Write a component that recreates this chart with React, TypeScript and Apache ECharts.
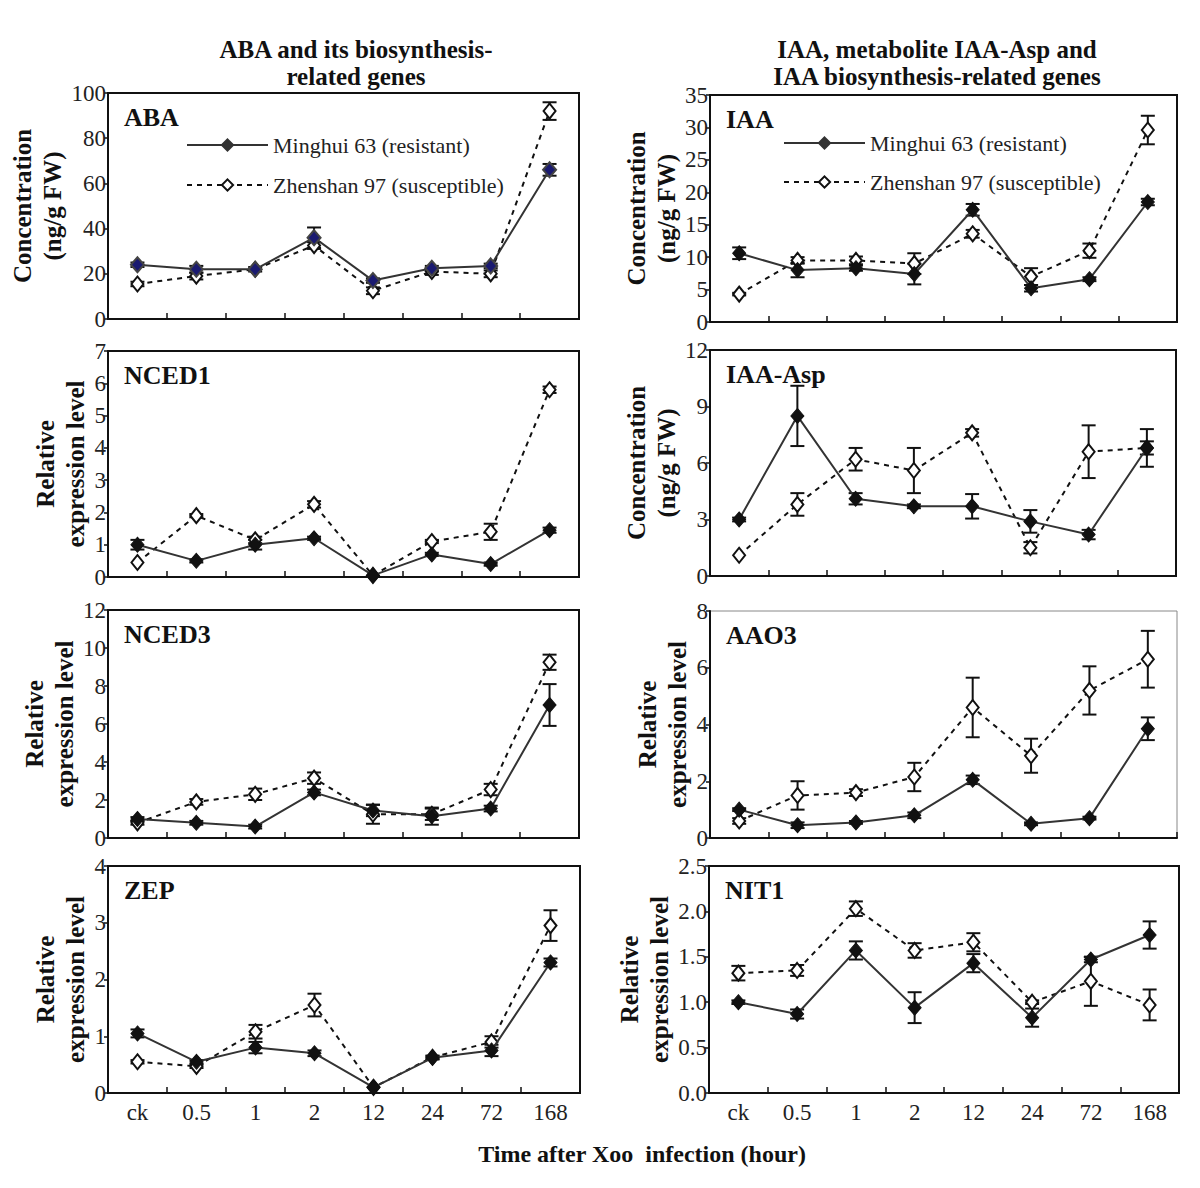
import React, { useEffect, useRef } from "react";
import * as echarts from "echarts";

const categories = ["ck", "0.5", "1", "2", "12", "24", "72", "168"];
const seriesNames = ["Minghui 63 (resistant)", "Zhenshan 97 (susceptible)"];

// ABA
const abaM = [24, 22, 22, 36, 17, 22.5, 23.5, 66];
const abaMErr = [1, 1.5, 0, 4.5, 1, 1, 1, 2.6];
const abaZ = [15.5, 19, 22, 32.5, 12.5, 21, 20, 92];
const abaZErr = [1, 1.5, 1, 1.5, 1.5, 1.5, 1.5, 3.9];
// IAA
const iaaM = [10.6, 8.0, 8.3, 7.4, 17.3, 5.2, 6.6, 18.5];
const iaaMErr = [0.9, 1.1, 0.4, 1.6, 0.9, 0.5, 0.3, 0.5];
const iaaZ = [4.3, 9.5, 9.5, 9.0, 13.6, 7.0, 11.0, 29.6];
const iaaZErr = [0.2, 0.5, 0.6, 1.6, 0.6, 1.3, 1.1, 2.2];
// NCED1
const nced1M = [1.0, 0.5, 1.0, 1.2, 0.05, 0.7, 0.4, 1.45];
const nced1MErr = [0.15, 0.05, 0.15, 0.05, 0, 0.05, 0.05, 0.08];
const nced1Z = [0.45, 1.9, 1.15, 2.25, 0.05, 1.1, 1.4, 5.8];
const nced1ZErr = [0, 0.05, 0.1, 0.1, 0, 0.05, 0.25, 0.1];
// IAA-Asp
const aspM = [3.0, 8.5, 4.1, 3.7, 3.7, 2.9, 2.2, 6.8];
const aspMErr = [0.1, 1.6, 0.3, 0.1, 0.65, 0.6, 0.25, 0.35];
const aspZ = [1.1, 3.8, 6.2, 5.6, 7.6, 1.5, 6.6, 6.8];
const aspZErr = [0, 0.6, 0.6, 1.2, 0.2, 0.3, 1.4, 1.0];
// NCED3
const nced3M = [1.0, 0.8, 0.6, 2.4, 1.45, 1.15, 1.55, 7.0];
const nced3MErr = [0.1, 0.1, 0.1, 0.15, 0.3, 0.45, 0.15, 1.1];
const nced3Z = [0.8, 1.9, 2.3, 3.15, 1.25, 1.25, 2.55, 9.25];
const nced3ZErr = [0.1, 0.15, 0.3, 0.3, 0.5, 0.3, 0.3, 0.4];
// AAO3
const aao3M = [1.0, 0.45, 0.55, 0.8, 2.05, 0.5, 0.7, 3.85];
const aao3MErr = [0.05, 0.1, 0.05, 0.1, 0.15, 0.05, 0.05, 0.4];
const aao3Z = [0.6, 1.5, 1.6, 2.15, 4.6, 2.9, 5.2, 6.3];
const aao3ZErr = [0.1, 0.5, 0.12, 0.5, 1.05, 0.6, 0.85, 1.0];
// ZEP
const zepM = [1.05, 0.55, 0.8, 0.7, 0.1, 0.62, 0.75, 2.3];
const zepMErr = [0.07, 0.03, 0.1, 0.05, 0, 0.03, 0.1, 0.07];
const zepZ = [0.55, 0.47, 1.08, 1.55, 0.1, 0.63, 0.9, 2.95];
const zepZErr = [0.03, 0.03, 0.12, 0.2, 0, 0.03, 0.1, 0.27];
// NIT1
const nit1M = [1.0, 0.87, 1.57, 0.94, 1.43, 0.83, 1.47, 1.74];
const nit1MErr = [0.02, 0.05, 0.1, 0.17, 0.1, 0.1, 0.03, 0.15];
const nit1Z = [1.32, 1.35, 2.03, 1.57, 1.66, 1.0, 1.23, 0.97];
const nit1ZErr = [0.08, 0.06, 0.08, 0.08, 0.1, 0.02, 0.27, 0.17];

const concName = "Concentration\n(ng/g FW)";
const relName = "Relative\nexpression level";

const panels = [
  { label: "ABA", m: abaM, mErr: abaMErr, z: abaZ, zErr: abaZErr, max: 100, interval: 20, yName: concName, dec: 0 },
  { label: "IAA", m: iaaM, mErr: iaaMErr, z: iaaZ, zErr: iaaZErr, max: 35, interval: 5, yName: concName, dec: 0 },
  { label: "NCED1", m: nced1M, mErr: nced1MErr, z: nced1Z, zErr: nced1ZErr, max: 7, interval: 1, yName: relName, dec: 0 },
  { label: "IAA-Asp", m: aspM, mErr: aspMErr, z: aspZ, zErr: aspZErr, max: 12, interval: 3, yName: concName, dec: 0 },
  { label: "NCED3", m: nced3M, mErr: nced3MErr, z: nced3Z, zErr: nced3ZErr, max: 12, interval: 2, yName: relName, dec: 0 },
  { label: "AAO3", m: aao3M, mErr: aao3MErr, z: aao3Z, zErr: aao3ZErr, max: 8, interval: 2, yName: relName, dec: 0 },
  { label: "ZEP", m: zepM, mErr: zepMErr, z: zepZ, zErr: zepZErr, max: 4, interval: 1, yName: relName, dec: 0 },
  { label: "NIT1", m: nit1M, mErr: nit1MErr, z: nit1Z, zErr: nit1ZErr, max: 2.5, interval: 0.5, yName: relName, dec: 1 },
];

const layout = [
  { left: 108, top: 93, width: 471, height: 226 },
  { left: 710, top: 95, width: 467, height: 227 },
  { left: 108, top: 351, width: 471, height: 226 },
  { left: 710, top: 350, width: 466, height: 226 },
  { left: 108, top: 610, width: 471, height: 228 },
  { left: 710, top: 611, width: 467, height: 227 },
  { left: 108, top: 866, width: 472, height: 227 },
  { left: 709, top: 866, width: 470, height: 227 },
];

const FONT = "Liberation Serif";

function errorBarRender(params: any, api: any) {
  const x = api.value(0);
  const v = api.value(1);
  const e = api.value(2);
  if (!e) return null;
  const top = api.coord([x, v + e]);
  const bot = api.coord([x, v - e]);
  const hw = 7;
  const st = { stroke: "#111", lineWidth: 2 };
  return {
    type: "group",
    children: [
      { type: "line", shape: { x1: top[0], y1: top[1], x2: bot[0], y2: bot[1] }, style: st },
      { type: "line", shape: { x1: top[0] - hw, y1: top[1], x2: top[0] + hw, y2: top[1] }, style: st },
      { type: "line", shape: { x1: bot[0] - hw, y1: bot[1], x2: bot[0] + hw, y2: bot[1] }, style: st },
    ],
  };
}

export default function App() {
  const ref = useRef<HTMLDivElement>(null);
  useEffect(() => {
    document.body.style.margin = "0";
    if (!ref.current) return;
    const chart = echarts.init(ref.current, undefined, { renderer: "svg" });

    const grids: any[] = [];
    const xAxes: any[] = [];
    const yAxes: any[] = [];
    const series: any[] = [];
    const graphics: any[] = [];

    panels.forEach((p, i) => {
      const g = layout[i];
      const thinFrame = p.label === "AAO3";
      grids.push({
        ...g,
        show: true,
        borderColor: thinFrame ? "#888" : "#111",
        borderWidth: thinFrame ? 1 : 2,
        backgroundColor: "transparent",
      });
      const bottomRow = i >= 6;
      xAxes.push({
        type: "category",
        gridIndex: i,
        data: categories,
        boundaryGap: true,
        axisLine: { show: true, lineStyle: { color: "#111", width: 2 } },
        axisTick: { show: true, inside: true, length: 6, interval: 0, lineStyle: { color: "#111", width: 1.5 } },
        axisLabel: {
          show: bottomRow,
          interval: 0,
          margin: 8,
          fontFamily: FONT,
          fontSize: 23,
          color: "#222",
        },
        splitLine: { show: false },
      });
      yAxes.push({
        type: "value",
        gridIndex: i,
        min: 0,
        max: p.max,
        interval: p.interval,
        name: p.yName,
        nameLocation: "middle",
        nameRotate: 90,
        nameGap: 18,
        nameTextStyle: { fontFamily: FONT, fontSize: 25, fontWeight: "bold", color: "#111", lineHeight: 30 },
        axisLine: { show: true, lineStyle: { color: "#111", width: 2 } },
        axisTick: { show: true, inside: false, length: 4, lineStyle: { color: "#111", width: 1.5 } },
        splitLine: { show: false },
        axisLabel: {
          fontFamily: FONT,
          fontSize: 23,
          color: "#222",
          margin: 2,
          formatter: (v: number) => v.toFixed(p.dec),
        },
      });
      series.push({
        type: "custom",
        name: "errM" + i,
        xAxisIndex: i,
        yAxisIndex: i,
        renderItem: errorBarRender,
        encode: { x: 0, y: 1 },
        data: p.m.map((v, k) => [k, v, p.mErr[k]]),
        z: 2,
        silent: true,
      });
      series.push({
        type: "custom",
        name: "errZ" + i,
        xAxisIndex: i,
        yAxisIndex: i,
        renderItem: errorBarRender,
        encode: { x: 0, y: 1 },
        data: p.z.map((v, k) => [k, v, p.zErr[k]]),
        z: 2,
        silent: true,
      });
      series.push({
        type: "line",
        name: seriesNames[1],
        xAxisIndex: i,
        yAxisIndex: i,
        data: p.z,
        symbol: "diamond",
        symbolSize: [12, 15],
        showAllSymbol: true,
        lineStyle: { color: "#111", width: 2, type: [5, 5] },
        itemStyle: { color: "#fff", borderColor: "#111", borderWidth: 2 },
        z: 3,
      });
      series.push({
        type: "line",
        name: seriesNames[0],
        xAxisIndex: i,
        yAxisIndex: i,
        data: p.m,
        symbol: "diamond",
        symbolSize: [13, 15],
        showAllSymbol: true,
        lineStyle: { color: "#333", width: 2 },
        itemStyle: i === 0
          ? { color: "#1a1a70", borderColor: "#444", borderWidth: 2 }
          : { color: "#111", borderColor: "#111", borderWidth: 1 },
        z: 4,
      });
      graphics.push({
        type: "text",
        x: g.left + 16,
        y: g.top + 11,
        style: {
          text: p.label,
          fontFamily: FONT,
          fontSize: 26,
          fontWeight: "bold",
          fill: "#111",
          textAlign: "left",
          textVerticalAlign: "top",
        },
      });
    });

    const headerStyle = {
      fontFamily: FONT,
      fontSize: 25,
      fontWeight: "bold",
      lineHeight: 27,
      fill: "#111",
      textAlign: "center",
      textVerticalAlign: "top",
    };

    graphics.push(
      {
        type: "text",
        x: 356,
        y: 36,
        style: { ...headerStyle, text: "ABA and its biosynthesis-\nrelated genes" },
      },
      {
        type: "text",
        x: 937,
        y: 36,
        style: { ...headerStyle, text: "IAA, metabolite IAA-Asp and\nIAA biosynthesis-related genes" },
      },
      {
        type: "text",
        x: 642,
        y: 1154,
        style: {
          text: "Time after Xoo\u00a0 infection (hour)",
          fontFamily: FONT,
          fontSize: 24,
          fontWeight: "bold",
          fill: "#111",
          textAlign: "center",
          textVerticalAlign: "middle",
        },
      }
    );

    const legendData = [
      { name: seriesNames[0], itemStyle: { color: "#333", borderColor: "#333" } },
      { name: seriesNames[1] },
    ];
    const legendBase = {
      orient: "vertical",
      itemWidth: 81,
      itemHeight: 14,
      data: legendData,
      selectedMode: false,
      textStyle: { fontFamily: FONT, fontSize: 22, color: "#222" },
    };

    chart.setOption({
      animation: false,
      backgroundColor: "#fff",
      grid: grids,
      xAxis: xAxes,
      yAxis: yAxes,
      series,
      legend: [
        { ...legendBase, left: 181, top: 129, itemGap: 18 },
        { ...legendBase, left: 778, top: 127, itemGap: 17 },
      ],
      graphic: graphics,
    });
    return () => chart.dispose();
  }, []);
  return <div ref={ref} style={{ width: 1200, height: 1188 }} />;
}
